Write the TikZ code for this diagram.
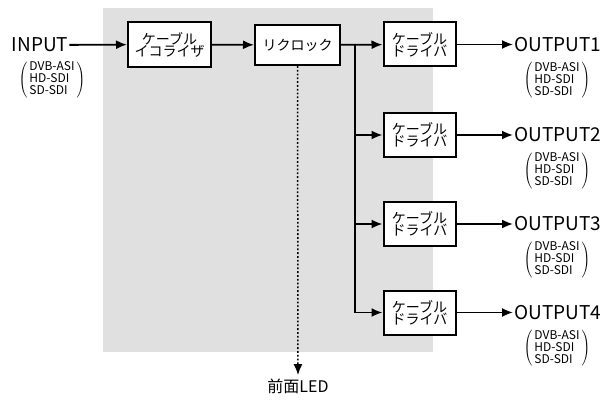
\documentclass[tikz,border=0pt]{standalone}
\usepackage{fontspec}
\setmainfont{Noto Sans CJK JP}
\usetikzlibrary{arrows.meta}
\begin{document}
\begin{tikzpicture}[x=1pt,y=-1pt,
 box/.style={draw,line width=2pt,fill=white,minimum width=72pt,minimum height=44pt,align=center,font=\fontsize{14}{15}\selectfont,inner sep=1pt},
 arr/.style={line width=1.8pt,-{Latex[length=11pt,width=9pt]}},
 big/.style={font=\fontsize{19}{20}\selectfont,inner sep=1pt},
 lst/.style={font=\fontsize{12}{13}\selectfont,inner sep=0pt}]
\useasboundingbox (0,0) rectangle (615,409);
\fill[black!12] (103,8) rectangle (433,352);
\newcommand{\sigl}{$\left(\,\begin{tabular}{@{}l@{}}DVB-ASI\\[-1pt]HD-SDI\\[-1pt]SD-SDI\end{tabular}\,\right)$}
\node[big] (in) at (40,45) {INPUT};
\node[lst] (inl) at (52,80) {\sigl};
\node[box,minimum width=83pt,minimum height=45pt] (eq) at (169.5,44.5) {ケーブル\\[-3pt]イコライザ};
\node[box,minimum width=85pt,minimum height=40pt] (rc) at (297.5,45) {リクロック};
\foreach \i/\y in {1/44.5,2/135,3/224,4/312.5}{
 \node[box] (d\i) at (419.5,\y) {ケーブル\\[-3pt]ドライバ};
 \node[big,anchor=west] (o\i) at (513,\y) {OUTPUT\i};
 \node[lst] (l\i) at (557,\y+36) {\sigl};
 \draw[arr] (d\i) -- (o\i);
}
\draw[arr] (in) -- (eq);
\draw[arr] (eq) -- (rc);
\coordinate (br) at (355,45);
\draw[arr] (rc) -- (d1);
\foreach \i in {2,3,4}{\draw[arr] (br) |- (d\i);}
\node[font=\fontsize{16}{17}\selectfont] (led) at (298,386) {前面LED};
\draw[arr,dotted,line width=1.5pt] (rc) -- (led);
\end{tikzpicture}
\end{document}
